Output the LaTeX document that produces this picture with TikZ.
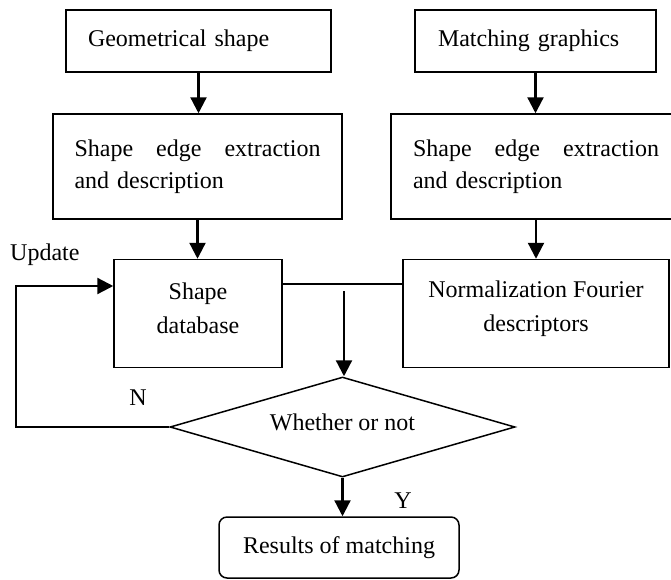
\documentclass[tikz,border=0pt]{standalone}
\usepackage{fontspec}
\setmainfont{Liberation Serif}
\usetikzlibrary{arrows.meta,shapes.geometric}
\newcommand{\justline}{\hbox to 246pt{Shape\hfill edge\hfill extraction}}
\begin{document}
\begin{tikzpicture}[x=1pt,y=-1pt,
  box/.style={draw,line width=1.5pt,rectangle,inner sep=0pt,font=\fontsize{24}{32}\selectfont},
  arr/.style={line width=2.3pt,-{Triangle[length=16pt,width=16pt]}},
  link/.style={line width=1.1pt},
  lbl/.style={inner sep=0pt,font=\fontsize{24}{34}\selectfont}]
\useasboundingbox (0,0) rectangle (671,579);
\node[box,minimum width=265pt,minimum height=62pt,text width=221pt,align=left] (geo) at (198.5,41) {Geometrical shape};
\node[box,minimum width=241pt,minimum height=62pt,text width=195pt,align=left] (mat) at (535.5,41) {Matching graphics};
\node[box,minimum width=289pt,minimum height=105pt,text width=246pt,align=left] (se1) at (197.5,166.5) {\justline\\and description};
\node[box,minimum width=290pt,minimum height=105pt,text width=246pt,align=left] (se2) at (536,166.5) {\justline\\and description};
\node[box,minimum width=168pt,minimum height=108pt] (db) at (198,313.5) {};
\node[lbl,align=center,yshift=5pt] (dbt) at (db.center) {Shape\\database};
\node[box,minimum width=266pt,minimum height=108pt] (norm) at (536,313.5) {};
\node[lbl,align=center,yshift=5pt] (normt) at (norm.center) {Normalization Fourier\\descriptors};
\node[box,shape=diamond,aspect=3.45,minimum width=345pt,minimum height=100pt,text depth=10pt] (dia) at (342.5,427) {Whether or not};
\node[box,minimum width=240pt,minimum height=61pt,rounded corners=8pt] (res) at (339,547.5) {Results of matching};
\node[lbl,anchor=base west] (upd) at (10,260) {Update};
\node[lbl,anchor=base] (nl) at (138,405) {N};
\node[lbl,anchor=base] (yl) at (403,508) {Y};
\coordinate (j) at (344,284);
\coordinate (js) at (344,291);
\coordinate (lp) at (16,286);
\draw[arr] (geo.south) -- (geo.south |- se1.north);
\draw[arr] (mat.south) -- (mat.south |- se2.north);
\draw[arr] (se1.south) -- (se1.south |- db.north);
\draw[arr] (se2.south) -- (se2.south |- norm.north);
\draw[link] (db.east |- j) -- (norm.west |- j);
\draw[arr] (js) -- (js |- dia.north);
\draw[arr] (dia.west) -| (lp) -- (db.west |- lp);
\draw[arr] (dia.south) -- (dia.south |- res.north);
\end{tikzpicture}
\end{document}
